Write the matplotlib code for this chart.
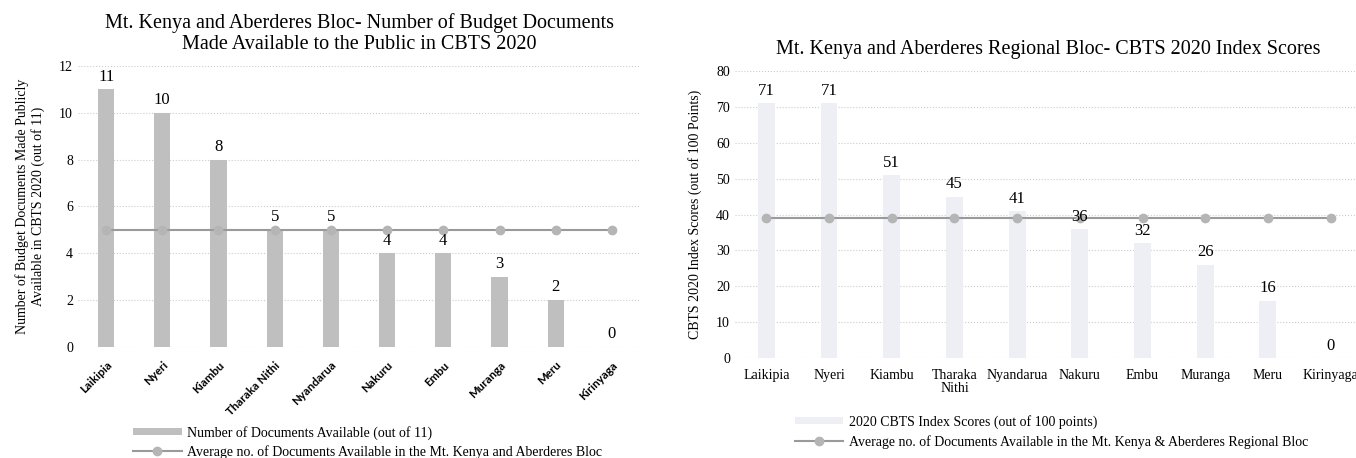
import matplotlib
matplotlib.use('Agg')
import matplotlib.pyplot as plt
from matplotlib.patches import Patch
from matplotlib.lines import Line2D

counties = ['Laikipia', 'Nyeri', 'Kiambu', 'Tharaka Nithi', 'Nyandarua',
            'Nakuru', 'Embu', 'Muranga', 'Meru', 'Kirinyaga']
counties_right = ['Laikipia', 'Nyeri', 'Kiambu', 'Tharaka\nNithi', 'Nyandarua',
                  'Nakuru', 'Embu', 'Muranga', 'Meru', 'Kirinyaga']
docs = [11, 10, 8, 5, 5, 4, 4, 3, 2, 0]
docs_avg = [5] * 10
scores = [71, 71, 51, 45, 41, 36, 32, 26, 16, 0]
scores_avg = [38.9] * 10

serif = 'Liberation Serif'
plt.rcParams['font.family'] = serif

fig = plt.figure(figsize = (13.56, 4.58), dpi = 100)

# left panel
ax1 = fig.add_axes([0.0575, 0.2424, 0.4145, 0.6135])
x = range(len(counties))
ax1.bar(x, docs, width = 0.29, color = '#bfbfbf', zorder = 2)
ax1.plot(x, docs_avg, color = '#9a9a9a', linewidth = 1.5, marker = 'o',
         markersize = 6, markerfacecolor = '#b5b5b5', markeredgecolor = '#b5b5b5', zorder = 3)
for i, v in enumerate(docs):
    ax1.text(i, v + 0.2, str(v), ha = 'center', va = 'bottom', fontsize = 12)
ax1.set_ylim(0, 12)
ax1.set_xlim(-0.5, len(counties) - 0.5)
ax1.set_yticks(range(0, 13, 2))
ax1.set_xticks(list(x))
ax1.tick_params(length = 0)
ax1.tick_params(axis = 'y', labelsize = 10)
ax1.tick_params(axis = 'x', pad = 9)
ax1.set_xticklabels(counties, rotation = 45, ha = 'right', rotation_mode = 'anchor',
                    fontsize = 8.3, fontweight = 'bold', family = 'Lato')
ax1.grid(axis = 'y', linestyle = ':', color = '#cccccc', linewidth = 0.8, zorder = 0)
for s in ax1.spines.values(): s.set_visible(False)
ax1.set_ylabel('Number of Budget Documents Made Publicly\nAvailable in CBTS 2020 (out of 11)',
               fontsize = 10, labelpad = 10)
ax1.set_title('Mt. Kenya and Aberderes Bloc- Number of Budget Documents\nMade Available to the Public in CBTS 2020',
              fontsize = 14.5, pad = 12)
h1 = [Patch(facecolor = '#bfbfbf', edgecolor = 'none'),
      Line2D([0], [0], color = '#9a9a9a', marker = 'o', markersize = 6,
             markerfacecolor = '#b5b5b5', markeredgecolor = '#b5b5b5')]
fig.legend(h1, ['Number of Documents Available (out of 11)',
                'Average no. of Documents Available in the Mt. Kenya and Aberderes Bloc'],
           loc = 'upper left', bbox_to_anchor = (0.093, 0.085), frameon = False,
           fontsize = 10, handlelength = 3.5, handleheight = 0.4, labelspacing = 0.35,
           handletextpad = 0.4, borderpad = 0)

# right panel
ax2 = fig.add_axes([0.542, 0.2183, 0.4624, 0.6266])
ax2.bar(x, scores, width = 0.27, color = '#edeff5', zorder = 2)
ax2.plot(x, scores_avg, color = '#9a9a9a', linewidth = 1.5, marker = 'o',
         markersize = 6, markerfacecolor = '#b5b5b5', markeredgecolor = '#b5b5b5', zorder = 3)
for i, v in enumerate(scores):
    ax2.text(i, v + 1.2, str(v), ha = 'center', va = 'bottom', fontsize = 12)
ax2.set_ylim(0, 80)
ax2.set_xlim(-0.5, len(counties) - 0.5)
ax2.set_yticks(range(0, 81, 10))
ax2.set_xticks(list(x))
ax2.tick_params(length = 0, labelsize = 10)
ax2.tick_params(axis = 'x', pad = 8)
ax2.set_xticklabels(counties_right, fontsize = 10, linespacing = 1.0)
ax2.grid(axis = 'y', linestyle = ':', color = '#cccccc', linewidth = 0.8, zorder = 0)
for s in ax2.spines.values(): s.set_visible(False)
ax2.set_ylabel('CBTS 2020 Index Scores (out of 100 Points)', fontsize = 10, labelpad = 10)
ax2.set_title('Mt. Kenya and Aberderes Regional Bloc- CBTS 2020 Index Scores',
              fontsize = 14.5, pad = 12)
h2 = [Patch(facecolor = '#edeff5', edgecolor = 'none'),
      Line2D([0], [0], color = '#9a9a9a', marker = 'o', markersize = 6,
             markerfacecolor = '#b5b5b5', markeredgecolor = '#b5b5b5')]
fig.legend(h2, ['2020 CBTS Index Scores (out of 100 points)',
                'Average no. of Documents Available in the Mt. Kenya & Aberderes Regional Bloc'],
           loc = 'upper left', bbox_to_anchor = (0.581, 0.11), frameon = False,
           fontsize = 10, handlelength = 3.5, handleheight = 0.4, labelspacing = 0.45,
           handletextpad = 0.4, borderpad = 0)

plt.savefig('out.png', dpi = 100)
plt.close()
